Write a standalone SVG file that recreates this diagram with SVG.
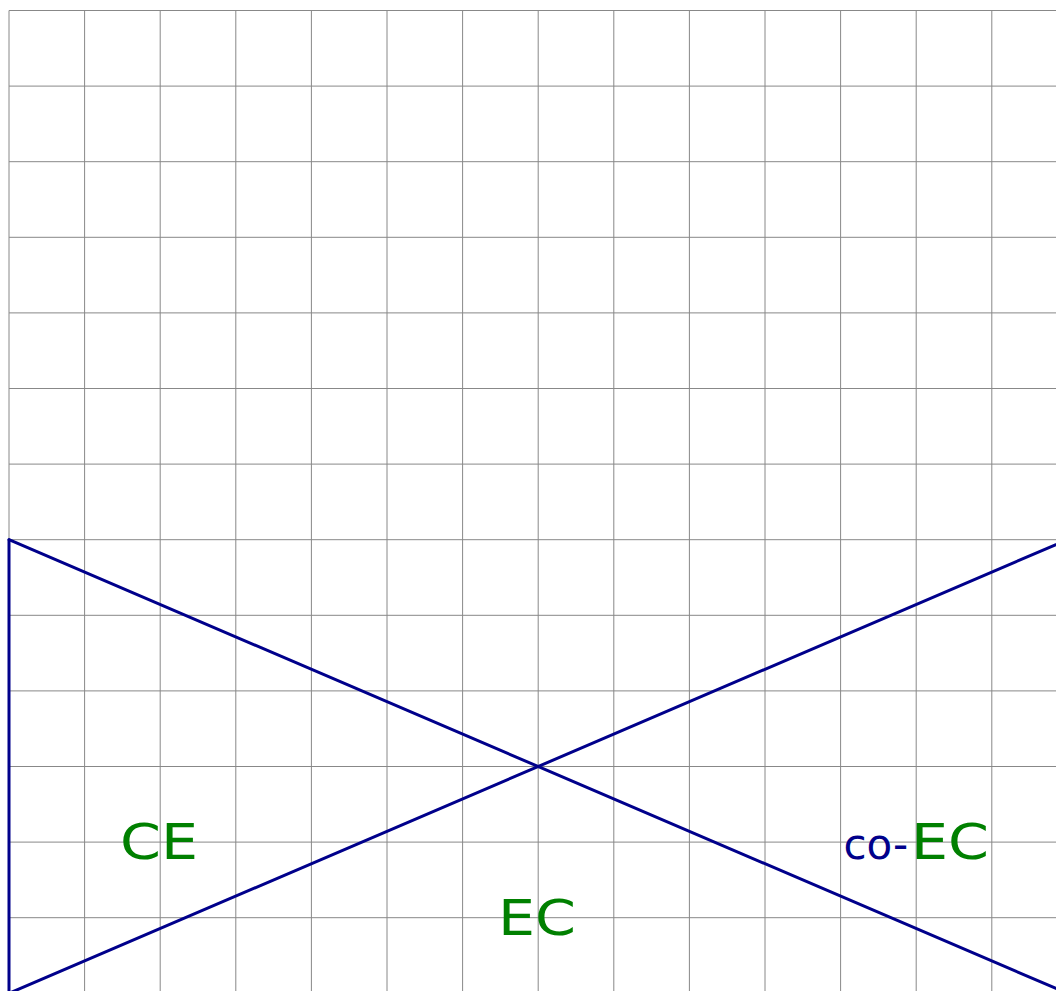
<svg xmlns="http://www.w3.org/2000/svg" width="1056" height="991" viewBox="0 0 1056 991">
<style>
.grid line{stroke:#888;stroke-width:1}
.blue{stroke:#00008b;stroke-width:3;fill:none;stroke-linecap:round}
.lbl{font-family:"DejaVu Sans",sans-serif;fill:#008000;font-size:50px}
.co{font-family:"DejaVu Sans",sans-serif;fill:#00008b;font-size:42px}
</style>
<rect width="1056" height="991" fill="#fff"/>
<g id="grid" class="grid">
<line x1="9" y1="10.5" x2="1056" y2="10.5"/>
<line x1="9" y1="86.1" x2="1056" y2="86.1"/>
<line x1="9" y1="161.7" x2="1056" y2="161.7"/>
<line x1="9" y1="237.3" x2="1056" y2="237.3"/>
<line x1="9" y1="312.9" x2="1056" y2="312.9"/>
<line x1="9" y1="388.5" x2="1056" y2="388.5"/>
<line x1="9" y1="464.1" x2="1056" y2="464.1"/>
<line x1="9" y1="539.7" x2="1056" y2="539.7"/>
<line x1="9" y1="615.3" x2="1056" y2="615.3"/>
<line x1="9" y1="690.9" x2="1056" y2="690.9"/>
<line x1="9" y1="766.5" x2="1056" y2="766.5"/>
<line x1="9" y1="842.1" x2="1056" y2="842.1"/>
<line x1="9" y1="917.7" x2="1056" y2="917.7"/>
<line x1="9" y1="10.5" x2="9" y2="991"/>
<line x1="84.6" y1="10.5" x2="84.6" y2="991"/>
<line x1="160.2" y1="10.5" x2="160.2" y2="991"/>
<line x1="235.8" y1="10.5" x2="235.8" y2="991"/>
<line x1="311.4" y1="10.5" x2="311.4" y2="991"/>
<line x1="387" y1="10.5" x2="387" y2="991"/>
<line x1="462.6" y1="10.5" x2="462.6" y2="991"/>
<line x1="538.2" y1="10.5" x2="538.2" y2="991"/>
<line x1="613.8" y1="10.5" x2="613.8" y2="991"/>
<line x1="689.4" y1="10.5" x2="689.4" y2="991"/>
<line x1="765" y1="10.5" x2="765" y2="991"/>
<line x1="840.6" y1="10.5" x2="840.6" y2="991"/>
<line x1="916.2" y1="10.5" x2="916.2" y2="991"/>
<line x1="991.8" y1="10.5" x2="991.8" y2="991"/>
</g>
<g id="connectors">
<line class="blue" x1="9" y1="539.7" x2="9" y2="993.3"/>
<line class="blue" x1="9" y1="539.7" x2="1067.4" y2="993.3"/>
<line class="blue" x1="9" y1="993.3" x2="1067.4" y2="539.7"/>
</g>
<g id="label-CE"><text class="lbl" x="120" y="859" textLength="78" lengthAdjust="spacingAndGlyphs">CE</text></g>
<g id="label-EC"><text class="lbl" x="498" y="935" textLength="78" lengthAdjust="spacingAndGlyphs">EC</text></g>
<g id="label-coEC">
<text class="co" x="843.5" y="859">co-</text>
<text class="lbl" x="911" y="859" textLength="78" lengthAdjust="spacingAndGlyphs">EC</text>
</g>
</svg>
